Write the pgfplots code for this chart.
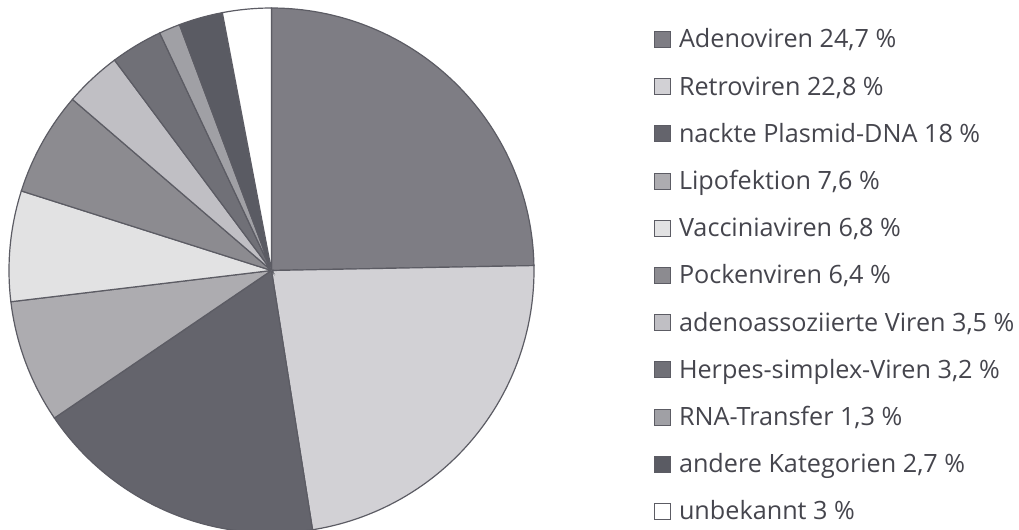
\documentclass[border=0pt]{standalone}
\usepackage{pgfplots}
\pgfplotsset{compat=1.18}
\usepackage{fontspec}
\setmainfont{Open Sans}
\definecolor{txt}{HTML}{45454D}
\definecolor{edge}{HTML}{5C5C64}
\definecolor{cA}{HTML}{7E7D84}
\definecolor{cB}{HTML}{D2D1D5}
\definecolor{cC}{HTML}{64646C}
\definecolor{cD}{HTML}{ADACB0}
\definecolor{cE}{HTML}{E2E2E3}
\definecolor{cF}{HTML}{8C8B90}
\definecolor{cG}{HTML}{C0BFC4}
\definecolor{cH}{HTML}{707077}
\definecolor{cI}{HTML}{A0A0A5}
\definecolor{cJ}{HTML}{5A5B63}
\definecolor{cK}{HTML}{FFFFFF}
\gdef\cum{0}
\newcommand\pieslice[3]{%
  \pgfmathsetmacro\pa{90-3.6*\cum}%
  \pgfmathsetmacro\pb{90-3.6*(\cum+#2)}%
  \pgfmathsetmacro\newcum{\cum+#2}%
  \xdef\cum{\newcum}%
  \edef\doplot{\noexpand\addplot[draw=edge, line width=0.6pt, fill=#1, domain=\pb:\pa, samples=80] ({cos(x)},{sin(x)}) -- (axis cs:0,0) -- cycle;}%
  \doplot
  \addlegendentry{#3}%
}
\begin{document}
\begin{tikzpicture}
\useasboundingbox (0,0) rectangle (509.5pt,-265pt);
\begin{axis}[
  at={(135.75pt,-135.25pt)}, anchor=center,
  width=262.5pt, height=262.5pt, scale only axis,
  xmin=-1, xmax=1, ymin=-1, ymax=1,
  hide axis, clip=false,
  legend cell align=left,
  legend image code/.code={\draw[#1, line width=0.5pt] (0pt,-3.75pt) rectangle (8pt,4.25pt);},
  legend style={
    at={(1.22857,0.9562)}, anchor=north west,
    draw=none, fill=none, inner sep=0pt, outer sep=0pt,
    row sep=15.1pt, column sep=4pt,
    font=\fontsize{12.6}{14}\selectfont\color{txt},
    nodes={inner sep=0pt, outer sep=0pt, text height=8pt, text depth=0pt},
  },
]
\pieslice{cA}{24.7}{Adenoviren 24,7 \%}
\pieslice{cB}{22.8}{Retroviren 22,8 \%}
\pieslice{cC}{18}{nackte Plasmid-DNA 18 \%}
\pieslice{cD}{7.6}{Lipofektion 7,6 \%}
\pieslice{cE}{6.8}{Vacciniaviren 6,8 \%}
\pieslice{cF}{6.4}{Pockenviren 6,4 \%}
\pieslice{cG}{3.5}{adenoassoziierte Viren 3,5 \%}
\pieslice{cH}{3.2}{Herpes-simplex-Viren 3,2 \%}
\pieslice{cI}{1.3}{RNA-Transfer 1,3 \%}
\pieslice{cJ}{2.7}{andere Kategorien 2,7 \%}
\pieslice{cK}{3}{unbekannt 3 \%}
\end{axis}
\end{tikzpicture}
\end{document}
